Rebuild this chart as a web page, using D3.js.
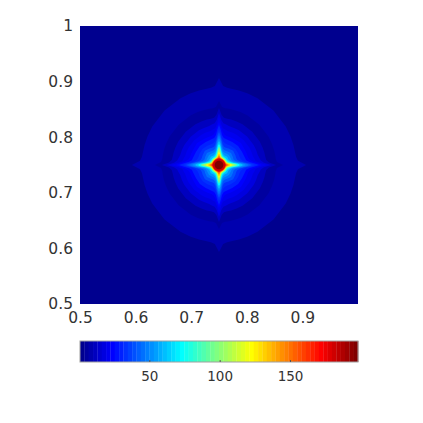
<!DOCTYPE html>
<html>
<head>
<meta charset="utf-8">
<script src="https://cdn.jsdelivr.net/npm/d3@7"></script>
<style>
    html, body { margin: 0; background: #fff; }
    text { font-family: "DejaVu Sans", sans-serif; fill: #333; }
</style>
</head>
<body>
<div id="chart"></div>
<script>
// ticks
const xTicks = [0.5, 0.6, 0.7, 0.8, 0.9];
const yTicks = [0.5, 0.6, 0.7, 0.8, 0.9, 1];
const barTicks = [50, 100, 150];

// contour levels, painted in this order (the field is not monotonic: the second one is the dark ring)
const levelValues = [10, 5.5, 13, 17, 21, 25, 29, 34, 38, 44, 52, 62, 74, 92, 105, 120, 135, 150, 165, 180, 198];
// angle from the nearest axis, in degrees
const contourAngles = [0, 3, 6, 10, 15, 22, 30, 45];
// radius of each level at those angles, in data units
const levelRadii = [
    [0.1566, 0.1422, 0.1395, 0.1386, 0.1386, 0.1386, 0.1386, 0.1386],
    [0.1152, 0.1044, 0.1026, 0.1026, 0.1026, 0.1026, 0.1026, 0.1026],
    [0.1026, 0.0900, 0.0855, 0.0846, 0.0846, 0.0846, 0.0846, 0.0846],
    [0.0936, 0.0810, 0.0756, 0.0738, 0.0720, 0.0720, 0.0720, 0.0720],
    [0.0864, 0.0738, 0.0666, 0.0648, 0.0630, 0.0630, 0.0630, 0.0630],
    [0.0774, 0.0684, 0.0612, 0.0558, 0.0540, 0.0540, 0.0540, 0.0558],
    [0.0720, 0.0630, 0.0540, 0.0495, 0.0486, 0.0477, 0.0477, 0.0486],
    [0.0648, 0.0576, 0.0486, 0.0432, 0.0405, 0.0396, 0.0405, 0.0414],
    [0.0594, 0.0531, 0.0450, 0.0378, 0.0342, 0.0333, 0.0342, 0.0360],
    [0.0540, 0.0486, 0.0414, 0.0342, 0.0297, 0.0279, 0.0288, 0.0306],
    [0.0486, 0.0441, 0.0369, 0.0306, 0.0261, 0.0243, 0.0243, 0.0252],
    [0.0432, 0.0396, 0.0333, 0.0270, 0.0234, 0.0207, 0.0198, 0.0207],
    [0.0378, 0.0351, 0.0297, 0.0243, 0.0207, 0.0180, 0.0171, 0.0171],
    [0.0333, 0.0306, 0.0261, 0.0216, 0.0180, 0.0162, 0.0157, 0.0158],
    [0.0288, 0.0270, 0.0225, 0.0189, 0.0162, 0.0148, 0.0144, 0.0144],
    [0.0243, 0.0225, 0.0198, 0.0166, 0.0144, 0.0137, 0.0135, 0.0135],
    [0.0198, 0.0189, 0.0171, 0.0148, 0.0135, 0.0130, 0.0128, 0.0128],
    [0.0162, 0.0158, 0.0148, 0.0135, 0.0126, 0.0124, 0.0122, 0.0122],
    [0.0135, 0.0131, 0.0126, 0.0122, 0.0119, 0.0117, 0.0117, 0.0117],
    [0.0119, 0.0115, 0.0113, 0.0112, 0.0110, 0.0108, 0.0108, 0.0108],
    [0.0078, 0.0078, 0.0078, 0.0078, 0.0078, 0.0078, 0.0078, 0.0078]
];
const backgroundValue = 1;
const peakCenter = [0.75, 0.75];

const colorMin = 0.75;
const colorMax = 198.3;
const colorCount = 64;

const width = 423, height = 423;
const plot = { left: 80, right: 358, top: 26, bottom: 304 };
const bar = { top: 341, bottom: 362 };

// matlab jet with 64 steps
function jet(i) {
    const t = (i + 1) / colorCount * 4;
    const ch = c => Math.round(255 * Math.max(0, Math.min(1, Math.min(t - c + 1.5, c - t + 1.5))));
    return `rgb(${ch(3)},${ch(2)},${ch(1)})`;
}
const colorIndex = d3.scaleQuantize()
    .domain([colorMin, colorMax])
    .range(d3.range(colorCount));

const svg = d3.select("#chart").append("svg")
    .attr("width", width)
    .attr("height", height)
    .style("display", "block");

const xScale = d3.scaleLinear().domain([0.5, 1]).range([plot.left, plot.right]);
const yScale = d3.scaleLinear().domain([0.5, 1]).range([plot.bottom, plot.top]);
const barScale = d3.scaleLinear().domain([colorMin, colorMax]).range([plot.left, plot.right]);

svg.append("clipPath").attr("id", "plot-clip").append("rect")
    .attr("x", plot.left).attr("y", plot.top)
    .attr("width", plot.right - plot.left).attr("height", plot.bottom - plot.top);

const field = svg.append("g").attr("clip-path", "url(#plot-clip)");

field.append("rect")
    .attr("x", plot.left).attr("y", plot.top)
    .attr("width", plot.right - plot.left).attr("height", plot.bottom - plot.top)
    .attr("fill", jet(colorIndex(backgroundValue)));

// every contour is eightfold symmetric, so unfold one octant into the full turn
function contourPoints(radii) {
    const octant = contourAngles.map((a, i) => [a, radii[i]]);
    const pts = [];
    for (let q = 0; q < 4; q++) {
        octant.forEach(p => pts.push([q * 90 + p[0], p[1]]));
        octant.slice(0, -1).reverse().forEach(p => pts.push([q * 90 + 90 - p[0], p[1]]));
    }
    return pts;
}

const rPx = r => xScale(0.5 + r) - xScale(0.5);
const contourLine = d3.lineRadial()
    .angle(d => d[0] * Math.PI / 180)
    .radius(d => rPx(d[1]))
    .curve(d3.curveLinearClosed);

field.selectAll(".level")
    .data(levelValues)
    .enter()
    .append("path")
    .attr("class", "level")
    .attr("transform", `translate(${xScale(peakCenter[0])}, ${yScale(peakCenter[1])})`)
    .attr("d", (d, i) => contourLine(contourPoints(levelRadii[i])))
    .attr("fill", d => jet(colorIndex(d)));

// Axes
const xAxis = d3.axisBottom(xScale).tickValues(xTicks).tickFormat(d => d).tickSize(0).tickPadding(8);
const yAxis = d3.axisLeft(yScale).tickValues(yTicks).tickFormat(d => d).tickSize(0).tickPadding(7);

const gx = svg.append("g").attr("transform", `translate(0, ${plot.bottom})`).call(xAxis);
const gy = svg.append("g").attr("transform", `translate(${plot.left}, 0)`).call(yAxis);
gx.select(".domain").remove();
gy.select(".domain").remove();
gx.selectAll("text").style("font-size", "15.5px");
gy.selectAll("text").style("font-size", "15.5px");
svg.selectAll("g").attr("font-family", null);

// Colorbar
const barCell = (plot.right - plot.left) / colorCount;
svg.append("g").selectAll("rect")
    .data(d3.range(colorCount))
    .enter()
    .append("rect")
    .attr("x", d => plot.left + d * barCell)
    .attr("y", bar.top)
    .attr("width", barCell + 0.3)
    .attr("height", bar.bottom - bar.top)
    .attr("fill", d => jet(d));

svg.append("rect")
    .attr("x", plot.left).attr("y", bar.top)
    .attr("width", plot.right - plot.left).attr("height", bar.bottom - bar.top)
    .attr("fill", "none")
    .attr("stroke", "#a0a0a0")
    .attr("stroke-width", 1);

const barAxis = d3.axisBottom(barScale).tickValues(barTicks).tickSize(-2).tickPadding(9);
const gb = svg.append("g").attr("transform", `translate(0, ${bar.bottom})`).call(barAxis);
gb.select(".domain").remove();
gb.selectAll("line").attr("stroke", "#555");
gb.selectAll("text").style("font-size", "13.5px");
gb.attr("font-family", null);
</script>
</body>
</html>
